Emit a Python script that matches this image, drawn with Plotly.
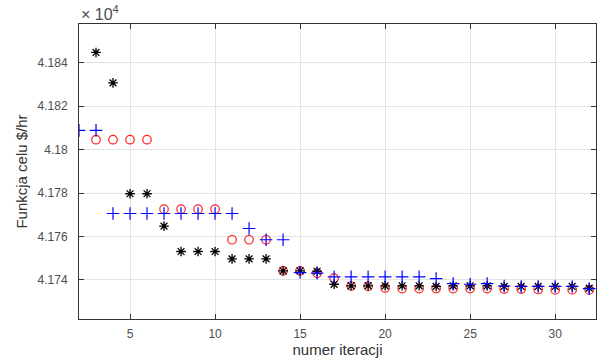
import numpy as np
import plotly.graph_objects as go

# Objective function value ($/hr) per iteration for three runs
iter_black = list(range(3, 33))
cost_black = [41844.8, 41830.8, 41779.7, 41779.7, 41764.8, 41753.1, 41753.1, 41753.1,
              41749.7, 41749.7, 41749.7, 41744.2, 41744.2, 41744.0, 41738.0, 41737.3,
              41737.3, 41737.3, 41737.3, 41737.3, 41737.0, 41737.3, 41737.3, 41737.3,
              41737.0, 41737.0, 41737.0, 41737.0, 41737.0, 41736.2]

iter_blue = list(range(2, 33))
cost_blue = [41808.9, 41808.9, 41770.6, 41770.6, 41770.6, 41770.6, 41770.6, 41770.6,
             41770.6, 41770.6, 41763.7, 41758.5, 41758.5, 41743.4, 41743.1, 41741.4,
             41741.4, 41741.4, 41741.4, 41741.4, 41741.4, 41740.6, 41738.3, 41738.0,
             41738.3, 41737.2, 41737.0, 41737.0, 41737.0, 41737.0, 41736.0]

iter_red = list(range(3, 33))
cost_red = [41804.6, 41804.6, 41804.6, 41804.6, 41772.6, 41772.6, 41772.6, 41772.6,
            41758.5, 41758.5, 41758.5, 41744.2, 41744.2, 41743.1, 41740.8, 41737.2,
            41737.0, 41736.3, 41736.0, 41736.0, 41736.0, 41736.0, 41736.0, 41736.0,
            41735.8, 41735.8, 41735.6, 41735.4, 41735.4, 41735.4]

x_ticks = [5, 10, 15, 20, 25, 30]
y_ticks = [4.174, 4.176, 4.178, 4.18, 4.182, 4.184]
y_tick_text = ["4.174", "4.176", "4.178", "4.18", "4.182", "4.184"]

SCALE = 1e4
font = "Liberation Sans, Arial, sans-serif"
tick_col = "#4d4d4d"

fig = go.Figure()
fig.add_trace(go.Scatter(x=iter_red, y=np.array(cost_red) / SCALE, mode="markers",
                         marker=dict(symbol="circle-open", size=8.5, color="#ff2020",
                                     line=dict(width=1.2)), showlegend=False))
fig.add_trace(go.Scatter(x=iter_black, y=np.array(cost_black) / SCALE, mode="markers",
                         marker=dict(symbol="asterisk-open", size=8, color="black",
                                     line=dict(width=1.3, color="black")), showlegend=False))
fig.add_trace(go.Scatter(x=iter_blue, y=np.array(cost_blue) / SCALE, mode="markers",
                         marker=dict(symbol="cross-thin-open", size=9, color="#0000ff",
                                     line=dict(width=1.2, color="#0000ff")), showlegend=False))

axis_common = dict(showline=True, linecolor="#333333", linewidth=1, mirror="allticks",
                   ticks="inside", ticklen=5, tickcolor="#333333",
                   showgrid=True, gridcolor="#e3e3e3", gridwidth=1, zeroline=False,
                   tickfont=dict(family=font, size=12, color=tick_col))

fig.update_xaxes(range=[2, 32.4], tickvals=x_ticks, ticklabelstandoff=4,
                 title=dict(text="numer iteracji", font=dict(family=font, size=15, color="#333333"),
                            standoff=4),
                 **axis_common)
fig.update_yaxes(range=[4.17220, 4.18579], tickvals=y_ticks, ticktext=y_tick_text,
                 ticklabelstandoff=8,
                 title=dict(text="Funkcja celu $/hr", font=dict(family=font, size=15, color="#333333"),
                            standoff=6),
                 **axis_common)

fig.add_annotation(xref="paper", yref="paper", x=0, y=1, xanchor="left", yanchor="bottom",
                   text="× 10<sup>4</sup>", showarrow=False, yshift=-1,
                   font=dict(family=font, size=16, color=tick_col))

fig.update_layout(width=598, height=358, plot_bgcolor="white", paper_bgcolor="white",
                  margin=dict(l=79, r=2, t=24, b=39))

fig.write_html("out.html")
